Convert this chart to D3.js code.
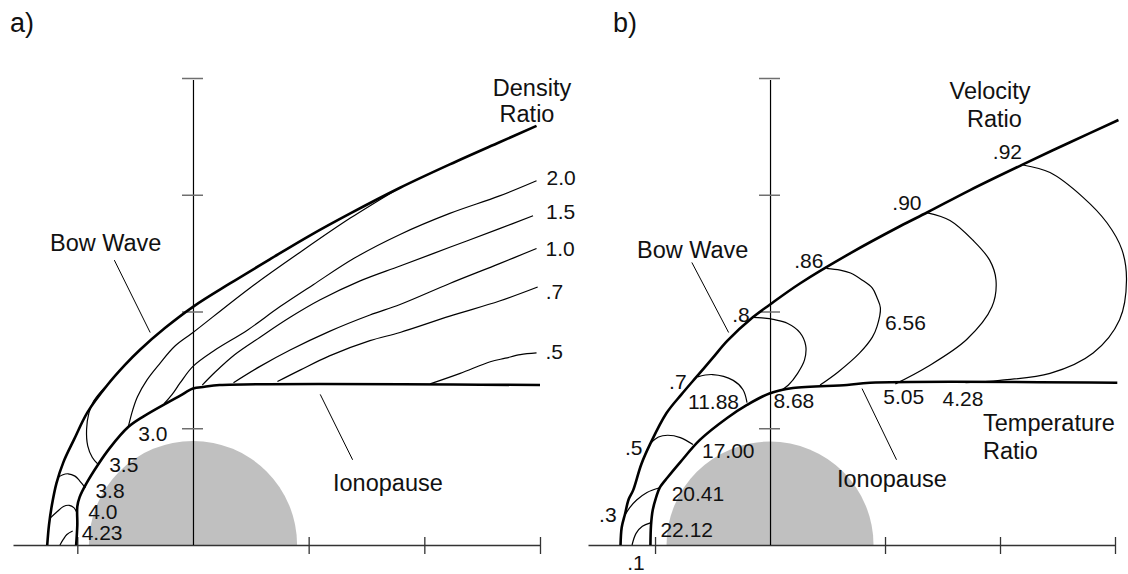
<!DOCTYPE html>
<html>
<head>
<meta charset="utf-8">
<script src="https://cdn.jsdelivr.net/npm/d3@7"></script>
<style>
  body { margin: 0; background: #fff; }
  text { font-family: "Liberation Sans", Arial, Helvetica, sans-serif; fill: #111; }
</style>
</head>
<body>
<svg id="chart" width="1128" height="574"></svg>
<script>
// axis units: one tick spacing = 1, origin at planet centre
const xTicks = [-1, 1, 2, 3];
const yTicks = [1, 2, 3, 4];
const planetR = 0.9;

// ---- panel a : density ratio ----
const bowA = [[-1.26,0],[-1.245,0.17],[-1.22,0.34],[-1.18,0.53],[-1.12,0.71],[-1.03,0.90],[-0.91,1.14],[-0.74,1.37],[-0.59,1.54],[-0.46,1.67],[-0.24,1.86],[0,2.04],[0.32,2.24],[0.67,2.45],[1.01,2.65],[1.36,2.84],[1.79,3.06],[2.22,3.26],[2.65,3.45],[2.97,3.59]];
const ionoA = [[-1.01,0],[-1.0,0.17],[-1.0,0.33],[-0.98,0.41],[-0.92,0.53],[-0.82,0.69],[-0.72,0.83],[-0.56,1.01],[-0.43,1.10],[-0.22,1.22],[-0.11,1.28],[0,1.34],[0.10,1.355],[0.23,1.37],[3.0,1.37]];
const densityLabels = ["4.23", "4.0", "3.8", "3.5", "3.0", "2.0", "1.5", "1.0", ".7", ".5"];
const densityLines = [
  [[-1.04,0.12],[-1.09,0.09],[-1.12,0.05],[-1.15,0]],
  [[-1.0,0.27],[-1.03,0.32],[-1.07,0.34],[-1.12,0.33],[-1.18,0.28],[-1.235,0.23]],
  [[-0.93,0.49],[-0.98,0.55],[-1.02,0.59],[-1.08,0.61],[-1.13,0.60],[-1.165,0.58]],
  [[-0.82,0.69],[-0.87,0.75],[-0.91,0.85],[-0.92,0.99],[-0.90,1.13],[-0.86,1.23],[-0.80,1.31],[-0.74,1.37]],
  [[-0.56,1.01],[-0.52,1.16],[-0.48,1.27],[-0.40,1.41],[-0.29,1.55],[-0.16,1.70],[0,1.82],[0.49,2.20],[0.93,2.51],[1.36,2.80],[1.77,3.05]],
  [[-0.25,1.21],[-0.18,1.29],[-0.11,1.39],[0,1.53],[0.19,1.67],[0.47,1.84],[0.75,2.04],[1.04,2.23],[1.40,2.46],[1.79,2.66],[2.22,2.84],[2.65,2.99],[2.97,3.12]],
  [[0.08,1.37],[0.19,1.48],[0.36,1.63],[0.58,1.78],[0.84,1.95],[1.10,2.10],[1.44,2.26],[1.79,2.39],[2.22,2.55],[2.65,2.71],[2.94,2.82]],
  [[0.35,1.39],[0.58,1.53],[0.84,1.67],[1.18,1.83],[1.53,1.97],[1.79,2.06],[2.22,2.24],[2.65,2.41],[2.97,2.54]],
  [[0.73,1.40],[0.93,1.50],[1.18,1.62],[1.53,1.75],[1.79,1.82],[2.22,1.96],[2.65,2.09],[2.98,2.21]],
  [[2.05,1.38],[2.31,1.47],[2.57,1.57],[2.70,1.60],[2.83,1.63],[2.97,1.645]]
];

// ---- panel b : velocity / temperature ratio ----
const bowB = [[-1.30,0],[-1.29,0.15],[-1.26,0.27],[-1.23,0.39],[-1.19,0.47],[-1.12,0.69],[-1.04,0.87],[-0.90,1.13],[-0.77,1.29],[-0.64,1.44],[-0.50,1.60],[-0.37,1.75],[-0.15,1.95],[0,2.06],[0.26,2.24],[0.70,2.50],[1.13,2.73],[1.37,2.85],[1.74,3.04],[2.20,3.26],[2.61,3.45],[3.03,3.64]];
const ionoB = [[-1.04,0],[-1.035,0.17],[-1.02,0.30],[-0.99,0.41],[-0.96,0.49],[-0.89,0.58],[-0.78,0.71],[-0.61,0.90],[-0.37,1.09],[-0.20,1.20],[0,1.30],[0.20,1.345],[0.67,1.37],[0.87,1.39],[3.02,1.39]];
const velocityLabels = [".1", ".3", ".5", ".7", ".8", ".86", ".90", ".92"];
const temperatureLabels = ["22.12", "20.41", "17.00", "11.88", "8.68", "6.56", "5.05", "4.28"];
const velocityLines = [
  [[-1.04,0.19],[-1.11,0.16],[-1.165,0.10],[-1.20,0]],
  [[-0.96,0.49],[-1.07,0.45],[-1.16,0.385],[-1.22,0.32],[-1.265,0.25]],
  [[-0.67,0.86],[-0.78,0.92],[-0.89,0.94],[-0.97,0.925],[-1.04,0.87]],
  [[-0.20,1.22],[-0.235,1.33],[-0.32,1.41],[-0.50,1.46],[-0.63,1.44]],
  [[0.09,1.32],[0.16,1.37],[0.24,1.47],[0.30,1.585],[0.31,1.71],[0.26,1.82],[0.15,1.90],[0.04,1.93],[-0.07,1.945],[-0.15,1.95]],
  [[0.435,1.37],[0.59,1.48],[0.78,1.645],[0.89,1.78],[0.93,1.87],[0.96,2.03],[0.93,2.12],[0.89,2.20],[0.80,2.27],[0.70,2.33],[0.61,2.355],[0.49,2.37]],
  [[1.09,1.38],[1.365,1.525],[1.71,1.76],[1.93,2.04],[1.965,2.27],[1.91,2.44],[1.765,2.61],[1.565,2.78],[1.37,2.845]],
  [[1.70,1.39],[2.0,1.41],[2.435,1.47],[2.81,1.645],[3.04,1.93],[3.10,2.27],[3.06,2.53],[2.93,2.76],[2.72,2.98],[2.435,3.19],[2.20,3.255]]
];

// pointer lines for the word labels (from label to curve)
const pointersA = [[[-0.68,2.44],[-0.37,1.82]], [[1.10,1.29],[1.38,0.73]]];
const pointersB = [[[-0.68,2.42],[-0.36,1.82]], [[0.80,1.34],[1.10,0.73]]];

const svg = d3.select("#chart");

function drawPanel(p) {
    const x = d3.scaleLinear().domain([p.xStart, 3]).range([p.left, p.right]);
    const y = d3.scaleLinear().domain([0, 4]).range([545, 78]);
    const g = svg.append("g");
    const line = d3.line()
        .x(d => x(d[0]))
        .y(d => y(d[1]))
        .curve(d3.curveCatmullRom.alpha(0.5));

    // planet
    g.append("path")
        .attr("transform", `translate(${x(0)},${y(0)})`)
        .attr("d", d3.arc()({innerRadius: 0, outerRadius: x(planetR) - x(0), startAngle: -Math.PI/2, endAngle: Math.PI/2}))
        .attr("fill", "#c0c0c0");

    // horizontal axis, ticks crossing the line
    const xa = g.append("g")
        .attr("transform", `translate(0,${y(0)})`)
        .call(d3.axisBottom(x).tickValues(xTicks).tickSize(17).tickSizeOuter(0).tickFormat(""));
    xa.select(".domain").attr("stroke", "#333").attr("stroke-width", 1.3);
    xa.selectAll(".tick line").attr("y1", -8).attr("y2", 9).attr("stroke", "#333").attr("stroke-width", 1.3);

    // vertical axis
    const ya = g.append("g")
        .attr("transform", `translate(${x(0)},0)`)
        .call(d3.axisLeft(y).tickValues(yTicks).tickSize(11).tickSizeOuter(0).tickFormat(""));
    ya.select(".domain").attr("stroke", "#000").attr("stroke-width", 1.2)
        .attr("d", `M0.5,${y(0)}V${y(4) + 2}`);
    ya.selectAll(".tick line").attr("x1", -11).attr("x2", 10).attr("stroke", "#6f6f6f").attr("stroke-width", 1.5);

    // contour lines
    g.selectAll(".contour")
        .data(p.lines)
        .join("path")
        .attr("class", "contour")
        .attr("d", line)
        .attr("fill", "none")
        .attr("stroke", "#000")
        .attr("stroke-width", 1.2);

    // bow wave + ionopause
    g.selectAll(".front")
        .data([p.bow, p.iono])
        .join("path")
        .attr("class", "front")
        .attr("d", line)
        .attr("fill", "none")
        .attr("stroke", "#000")
        .attr("stroke-width", 2.6)
        .attr("stroke-linejoin", "round");

    g.selectAll(".pointer")
        .data(p.pointers)
        .join("path")
        .attr("class", "pointer")
        .attr("d", d3.line().x(d => x(d[0])).y(d => y(d[1])))
        .attr("stroke", "#000")
        .attr("stroke-width", 1);

    // value labels anchored to contour points
    p.labels.forEach(l => {
        const pts = p.lines[l.line];
        const pt = l.at === "start" ? pts[0] : l.at === "end" ? pts[pts.length - 1] : pts[l.at];
        g.append("text")
            .attr("x", x(pt[0]) + l.dx)
            .attr("y", y(pt[1]) + l.dy)
            .attr("dy", "0.35em")
            .attr("text-anchor", l.anchor || "start")
            .style("font-size", "21px")
            .text(l.text);
    });

    p.words.forEach(w => {
        g.append("text")
            .attr("x", w.x)
            .attr("y", w.y)
            .attr("text-anchor", w.anchor || "start")
            .style("font-size", (w.size || 23.5) + "px")
            .text(w.text);
    });
}

const labA = [
    {dx: 9, dy: 2}, {dx: 11, dy: -2}, {dx: 10, dy: 3}, {dx: 11, dy: 0}, {dx: 10, dy: 7},
    {dx: 10, dy: -3}, {dx: 13, dy: -4}, {dx: 9, dy: 0}, {dx: 8, dy: 5}, {dx: 9, dy: -1}
].map((o, i) => Object.assign(o, {line: i, at: i < 5 ? "start" : "end", text: densityLabels[i]}));

drawPanel({
    xStart: -1.556, left: 13, right: 540,
    bow: bowA, iono: ionoA, lines: densityLines, pointers: pointersA,
    labels: labA,
    words: [
        {text: "a)", x: 10, y: 32, size: 27},
        {text: "Density", x: 532, y: 96, anchor: "middle"},
        {text: "Ratio", x: 527, y: 122, anchor: "middle"},
        {text: "Bow Wave", x: 50, y: 251},
        {text: "Ionopause", x: 333, y: 491}
    ]
});

const tempLayout = [
    {at: "start", dx: 10, dy: 7}, {at: "start", dx: 12, dy: 6}, {at: "start", dx: 9, dy: 6},
    {at: "start", dx: -8, dy: -1, anchor: "end"}, {at: "start", dx: -7, dy: 10},
    {at: 4, dx: 8, dy: -4}, {at: "start", dx: -12, dy: 13}, {at: "start", dx: -23, dy: 16}
];
const velLayout = [
    {dx: 4, dy: 18, anchor: "middle"}, {dx: -8, dy: -1, anchor: "end"}, {dx: -8, dy: 4, anchor: "end"},
    {dx: -11, dy: 5, anchor: "end"}, {dx: -3, dy: -3, anchor: "end"}, {dx: -3, dy: -8, anchor: "end"},
    {dx: -6, dy: -10, anchor: "end"}, {dx: -1, dy: -13, anchor: "end"}
];
const labB = tempLayout.map((o, i) => Object.assign(o, {line: i, text: temperatureLabels[i]}))
    .concat(velLayout.map((o, i) => Object.assign(o, {line: i, at: "end", text: velocityLabels[i]})));

drawPanel({
    xStart: -1.583, left: 588, right: 1115,
    bow: bowB, iono: ionoB, lines: velocityLines, pointers: pointersB,
    labels: labB,
    words: [
        {text: "b)", x: 613, y: 32, size: 27},
        {text: "Velocity", x: 990, y: 99, anchor: "middle"},
        {text: "Ratio", x: 967, y: 127},
        {text: "Bow Wave", x: 637, y: 258},
        {text: "Ionopause", x: 837, y: 487},
        {text: "Temperature", x: 983, y: 431},
        {text: "Ratio", x: 983, y: 459}
    ]
});
</script>
</body>
</html>
